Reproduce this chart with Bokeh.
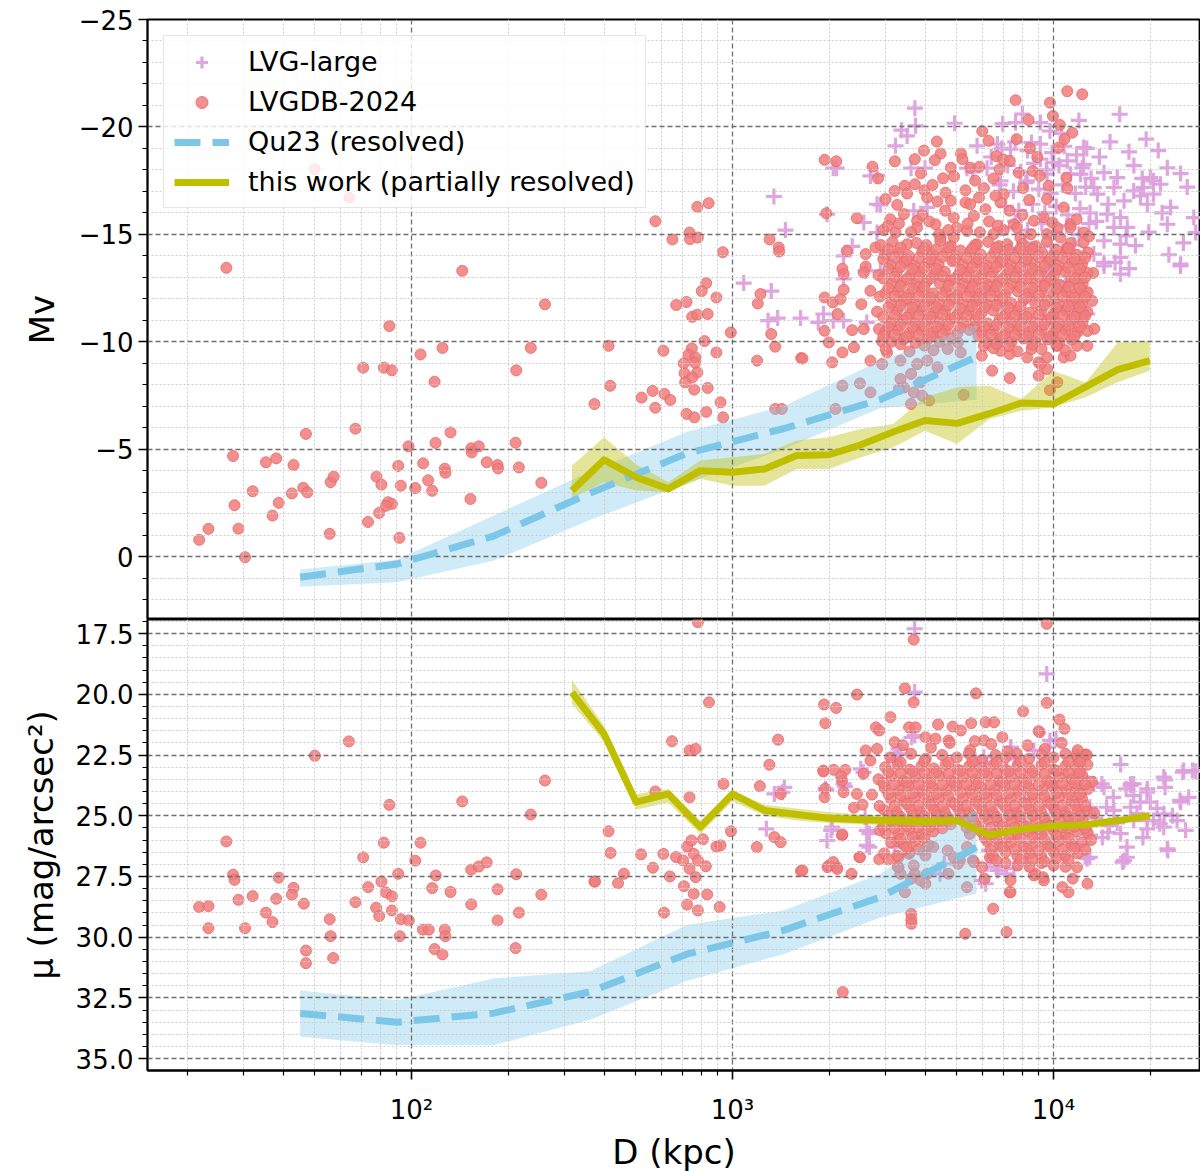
from bokeh.plotting import figure
from bokeh.layouts import column
from bokeh.models import Range1d, FixedTicker, CustomJSTickFormatter, Legend, LegendItem
from bokeh.embed import file_html
from bokeh.resources import INLINE

FONT = "DejaVu Sans"

# ---------------------------------------------------------------------------
# Binned relations (D in kpc)
# ---------------------------------------------------------------------------
qu23_d = [45, 90, 180, 360, 720, 1440, 2880, 5760]
qu23_mv = [0.96, 0.35, -0.95, -2.95, -4.8, -5.95, -7.3, -9.3]
qu23_mv_bright = [0.6, 0.15, -1.9, -3.95, -5.8, -7.0, -9.1, -10.8]
qu23_mv_faint = [1.4, 1.2, 0.2, -1.7, -3.4, -5.0, -6.9, -7.3]
qu23_mu = [33.14, 33.5, 33.13, 32.25, 30.7, 29.72, 28.36, 26.3]
qu23_mu_low = [32.2, 32.6, 31.7, 31.4, 29.5, 28.9, 27.4, 24.7]
qu23_mu_high = [34.1, 34.45, 34.45, 33.4, 31.8, 30.7, 29.2, 28.2]

work_d = [316, 398, 501, 631, 794, 1000, 1259, 1585, 1995, 2512,
          3162, 3981, 5012, 6310, 7943, 10000, 12589, 15849, 19953]
work_mv = [-3.07, -4.5, -3.69, -3.15, -4.0, -3.92, -4.08, -4.7, -4.74, -5.2,
           -5.8, -6.33, -6.2, -6.65, -7.15, -7.1, -7.9, -8.7, -9.12]
work_mv_bright = [-4.23, -5.55, -4.3, -3.46, -4.47, -4.62, -4.78, -5.4, -5.55, -5.94,
                  -6.17, -7.41, -7.88, -7.95, -7.33, -8.65, -8.1, -9.97, -10.05]
work_mv_faint = [-2.7, -3.46, -3.07, -2.99, -3.62, -3.3, -3.3, -4.08, -4.08, -4.62,
                 -5.08, -5.86, -5.24, -6.4, -6.79, -6.95, -7.41, -8.11, -8.65]
work_mu = [19.92, 21.63, 24.44, 24.1, 25.47, 24.1, 24.78, 24.95, 25.1, 25.17,
           25.2, 25.25, 25.2, 25.8, 25.55, 25.42, 25.37, 25.2, 25.0]
work_mu_low = [19.4, 21.3, 24.1, 23.9, 25.2, 23.95, 24.55, 24.7, 24.85, 24.95,
               25.0, 25.05, 25.05, 25.65, 25.4, 25.3, 25.25, 25.1, 24.9]
work_mu_high = [20.4, 21.95, 24.75, 24.45, 25.75, 24.4, 25.0, 25.2, 25.3, 25.35,
                25.4, 25.4, 25.35, 25.95, 25.7, 25.55, 25.5, 25.3, 25.1]

# ---------------------------------------------------------------------------
# Galaxy catalogues: (D [kpc], Mv)
# ---------------------------------------------------------------------------
lvgdb_mv_pts = [
    (21.8, -0.78), (23.3, -1.29), (28.9, -1.30), (30.3, 0.03), (28.1, -2.39), (27.8, -4.68),
    (32.0, -3.04), (35.2, -4.39), (37.9, -4.57), (36.9, -1.91), (38.6, -2.50), (42.9, -4.26),
    (42.4, -2.94), (46.0, -3.2), (47.4, -2.99), (46.9, -5.71), (55.6, -1.06), (56.0, -3.46),
    (57.2, -3.72), (66.9, -5.95), (70.7, -8.79), (82.0, -8.79), (86.9, -8.67), (73.2, -1.61),
    (77.8, -3.72), (80.6, -3.35), (79.3, -2.03), (84.5, -2.53), (86.9, -2.45), (83.2, -2.36),
    (90.9, -4.22), (92.6, -3.30), (91.7, -0.87), (97.9, -5.13), (106.7, -9.41), (124.9, -9.71),
    (118, -8.14), (108.7, -4.34), (118.8, -5.29), (132.3, -5.78), (112.7, -3.55), (116, -3.06),
    (127, -4.09), (127.5, -3.9), (102.7, -3.19), (153.5, -5.04), (154, -4.85), (162, -5.13),
    (152.6, -2.68), (171.5, -4.39), (185.4, -4.26), (186, -4.1), (216, -4.15), (211, -5.3),
    (212, -8.67), (235.3, -9.71), (253.8, -3.43), (371.5, -7.1), (26.5, -13.44), (143.9, -13.3),
    (85.3, -10.73), (260.5, -11.74), (50, -18.03), (64, -16.71),
    (843, -16.45), (777, -16.28), (575, -15.61), (650, -14.76), (735, -15.08), (737, -14.78),
    (780, -14.85), (933, -14.17), (828, -12.73), (802, -12.36), (891, -12.06), (668, -11.71),
    (719, -11.85), (749, -11.16), (777, -11.26), (837, -11.29), (988, -10.43), (818, -10.03),
    (411, -9.81), (609, -9.58), (747, -9.69), (730, -9.4), (766, -9.27), (891, -9.5),
    (705, -8.99), (764, -9.02), (709, -8.53), (777, -8.57), (749, -8.34), (712, -8.11),
    (416, -7.95), (760, -7.77), (837, -7.85), (564, -7.71), (614, -7.57), (521, -7.4),
    (640, -7.29), (575, -6.93), (918, -7.18), (828, -6.74), (719, -6.64), (761, -6.48),
    (935, -6.48), (1359, -6.87), (1424, -6.87), (1193, -9.12), (1320, -10.36), (1359, -9.77),
    (1637, -9.24), (1305, -14.76), (1394, -14.39), (1397, -14.2), (1222, -12.22), (1199, -11.78),
    (11040, -21.66), (12290, -21.52), (7620, -21.24), (9750, -21.13), (9960, -20.51), (8360, -20.33),
    (10470, -20.09), (11440, -19.73), (10820, -19.43), (6280, -19.35), (7680, -19.43), (4330, -19.32),
    (8440, -19.01), (10380, -19.04), (5150, -18.76), (4450, -18.76), (1937, -18.47), (2105, -18.4),
    (3205, -18.4), (3700, -18.5), (4270, -18.45), (6640, -18.64), (6980, -18.48), (7310, -18.42),
    (2730, -18.15), (4790, -18.1), (5510, -18.1), (5880, -18.15), (6800, -18.03), (7800, -17.87),
    (8620, -17.95), (9070, -17.72), (2840, -17.6), (3860, -17.84), (4530, -17.61), (10970, -17.64),
    (3440, -17.26), (3700, -17.33), (3200, -17.02), (3960, -17.05), (4610, -16.94), (5320, -17.05),
    (6070, -17.15), (7000, -16.87), (8040, -17.15), (9660, -17.26), (11040, -17.15), (3000, -16.64),
    (3260, -16.37), (4040, -16.71), (4350, -16.53), (4790, -16.56), (5320, -16.48), (5860, -16.71),
    (6840, -16.48), (9550, -16.64), (10760, -16.25), (2440, -15.75), (1960, -15.98), (3420, -15.94),
    (3760, -15.63), (4290, -15.47), (4890, -15.78), (5650, -15.86), (6140, -16.17), (7530, -15.47),
    (8690, -15.63), (9930, -15.55), (11300, -15.47), (12420, -15.08), (12400, -14.62), (2270, -14.23),
    (2600, -14.08), (2790, -14.39), (3220, -15.08), (3500, -14.54), (3760, -15.32), (4450, -14.85),
    (4890, -14.85), (5380, -15.16), (5780, -14.54), (6510, -15.01), (7170, -14.54), (7890, -14.85),
    (8690, -14.39), (9550, -15.01), (10510, -14.85), (11040, -14.39), (11300, -15.32), (2200, -13.4),
    (2600, -13.5),
    (3300, -15.5), (3900, -15.9), (4600, -16.1), (5000, -15.3), (5500, -16.4), (6300, -15.6),
    (6600, -16.8), (7300, -16.1), (8000, -15.9), (3500, -16.9), (4200, -17.3), (5700, -17.5),
    (4900, -17.7), (6500, -17.6), (3100, -15.7), (2950, -15.2), (8400, -16.6), (5200, -18.5),
    (3950, -18.9), (6000, -19.8), (8900, -18.6), (4400, -15.0), (7000, -15.2),
    (3050, -15.4), (3600, -15.1), (4100, -15.6), (4700, -15.2), (5400, -15.5), (5900, -15.1),
    (6700, -15.4), (7700, -15.3), (8500, -15.0), (9300, -15.8), (10300, -15.3), (11800, -15.7),
    (12900, -14.9), (13300, -13.2), (13200, -11.9), (13400, -10.6),
    (2220, -13.15), (2565, -13.22), (1937, -12.06), (2055, -11.83), (2170, -11.99), (2220, -12.42),
    (2690, -12.37), (2520, -11.75), (2125, -11.29), (1937, -10.51), (2360, -10.54), (2565, -10.59),
    (2860, -10.59), (1996, -9.97), (2390, -9.74), (2200, -9.5), (2045, -9.04), (1652, -9.22),
    (2690, -9.12), (2925, -10.01), (3030, -9.5), (2925, -8.96), (2200, -7.95), (2495, -8.06),
    (2690, -7.64), (2094, -6.87), (6440, -8.65), (7310, -8.31), (8990, -8.42), (9550, -8.73),
    (5980, -9.35), (6070, -9.81), (6840, -9.58), (7310, -9.43), (8280, -9.27), (8540, -9.66),
    (9550, -9.27), (10760, -9.27), (11300, -9.35), (12740, -9.81), (11840, -9.81), (10280, -9.81),
    (8990, -9.04), (9108, -8.96), (5250, -7.53), (10280, -8.11), (9750, -7.75), (3337, -8.27),
    (3600, -8.5), (3760, -8.96), (3337, -9.12), (4040, -9.12), (4350, -8.81), (4680, -9.66),
    (5040, -9.97), (5140, -9.5), (5650, -10.67), (3670, -7.64), (3900, -7.49), (3600, -7.1),
    (4100, -7.26), (3420, -7.87), (3850, -8.11), (3300, -7.8),
    (2900, -14.5), (3150, -14.65), (3740, -14.6), (4020, -14.5), (4440, -14.7),
    (4790, -14.45), (5690, -14.5), (6260, -14.65), (6760, -14.45),
    (8020, -14.55), (8820, -14.45), (9540, -14.65), (11330, -14.6),
    (2980, -14.05), (3290, -14.15), (3540, -14.0), (3900, -14.2), (4210, -14.05), (4640, -14.15),
    (4990, -14.0), (5500, -14.2), (5940, -14.05), (6540, -14.15), (7050, -14.0), (7760, -14.2),
    (8380, -14.05), (9220, -14.15), (9960, -14.0), (10950, -14.2), (11830, -14.05), (12800, -14.15),
    (3110, -13.6), (3430, -13.7), (3700, -13.55), (4070, -13.7), (4390, -13.6), (4840, -13.75),
    (5220, -13.6), (5740, -13.7), (6200, -13.55), (6820, -13.7), (7370, -13.6), (8100, -13.75),
    (8750, -13.6), (9620, -13.7), (10400, -13.55), (11420, -13.7), (12270, -13.6),
    (2850, -13.1), (3250, -13.25), (3580, -13.1), (3860, -13.25), (4250, -13.15), (4590, -13.25),
    (5050, -13.1), (5450, -13.25), (6000, -13.15), (6480, -13.25), (7120, -13.1), (7700, -13.25),
    (8450, -13.15), (9150, -13.25), (10040, -13.1), (10870, -13.25), (11920, -13.15), (12740, -13.2),
    (3140, -12.7), (3390, -12.8), (3730, -12.65), (4030, -12.8), (4430, -12.7), (4790, -12.85),
    (5260, -12.7), (5700, -12.8), (6250, -12.65), (6770, -12.8), (7420, -12.7), (8040, -12.85),
    (8810, -12.7), (9560, -12.8), (10460, -12.65), (11350, -12.8), (12330, -12.7),
    (2990, -12.25), (3280, -12.35), (3550, -12.2), (3890, -12.35), (4220, -12.25), (4620, -12.35),
    (5010, -12.2), (5490, -12.35), (5950, -12.25), (6520, -12.35), (7070, -12.2), (7740, -12.35),
    (8400, -12.25), (9190, -12.35), (9980, -12.2), (10920, -12.35), (11860, -12.25), (12780, -12.3),
    (3120, -11.8), (3420, -11.9), (3710, -11.75), (4060, -11.9), (4400, -11.8), (4830, -11.95),
    (5230, -11.8), (5730, -11.9), (6210, -11.75), (6810, -11.9), (7380, -11.8), (8080, -11.95),
    (8770, -11.8), (9600, -11.9), (10420, -11.75), (11400, -11.9), (12290, -11.8),
    (2820, -11.4), (3260, -11.45), (3570, -11.3), (3870, -11.45), (4240, -11.35), (4600, -11.45),
    (5030, -11.3), (5460, -11.45), (5980, -11.35), (6490, -11.45), (7100, -11.3), (7710, -11.45),
    (8430, -11.35), (9160, -11.45), (10020, -11.3), (10880, -11.45), (11900, -11.35), (12750, -11.4),
    (3130, -10.9), (3400, -11.0), (3720, -10.85), (4040, -11.0), (4420, -10.9), (4800, -11.05),
    (5250, -10.9), (5710, -11.0), (6240, -10.85), (6780, -11.0), (7410, -10.9), (8050, -11.05),
    (8800, -10.9), (9570, -11.0), (10450, -10.85), (11370, -11.0), (12320, -10.9),
    (2990, -10.45), (3270, -10.55), (3560, -10.4), (3880, -10.55), (4230, -10.45), (4610, -10.55),
    (5020, -10.4), (5470, -10.55), (5970, -10.45), (6500, -10.55), (7090, -10.4), (7730, -10.55),
    (8420, -10.45), (9180, -10.55), (10000, -10.4), (10900, -10.55), (11880, -10.45), (12760, -10.5),
    (3130, -10.0), (3410, -10.1), (3720, -9.95), (4050, -10.1), (4420, -10.0), (4810, -10.15),
    (6230, -9.95), (6790, -10.1), (7400, -10.0), (8060, -10.15), (8790, -10.0), (9580, -10.1),
    (10440, -9.95), (11380, -10.1),
    (3000, -9.65), (3560, -9.55), (4230, -9.6), (6500, -9.7), (7730, -9.55), (9180, -9.65),
    (10900, -9.6),
    (3060, -14.3), (3340, -14.38), (3960, -14.35), (4320, -14.3), (4710, -14.4),
    (5130, -14.25), (5590, -14.35), (6650, -14.38), (7240, -14.28), (7890, -14.35),
    (8600, -14.3), (10220, -14.28), (11140, -14.35),
    (2950, -13.85), (3200, -13.92), (3490, -13.82), (3800, -13.9), (4140, -13.85), (4510, -13.95),
    (4920, -13.82), (5360, -13.9), (5840, -13.85), (6370, -13.92), (6940, -13.82), (7570, -13.9),
    (8240, -13.85), (8990, -13.95), (9790, -13.82), (10670, -13.9), (11630, -13.85), (12550, -13.9),
    (3060, -13.4), (3340, -13.48), (3640, -13.38), (3960, -13.45), (4320, -13.4),
    (5130, -13.35), (5590, -13.45), (6100, -13.4), (6650, -13.48), (7240, -13.38), (7890, -13.45),
    (8600, -13.4), (9380, -13.5), (10220, -13.38), (11140, -13.45), (12100, -13.4),
    (2950, -12.95), (3200, -13.02), (3490, -12.92), (3800, -13.0), (4140, -12.95), (4510, -13.05),
    (4920, -12.92), (5360, -13.0), (5840, -12.95), (6370, -13.02), (6940, -12.92), (7570, -13.0),
    (8240, -12.95), (8990, -13.05), (9790, -12.92), (11630, -12.95), (12550, -13.0),
    (3060, -12.5), (3340, -12.58), (3640, -12.48), (3960, -12.55), (4710, -12.6),
    (5130, -12.45), (5590, -12.55), (6100, -12.5), (6650, -12.58), (7240, -12.48), (7890, -12.55),
    (8600, -12.5), (9380, -12.6), (10220, -12.48), (11140, -12.55), (12100, -12.5),
    (2880, -12.1), (3200, -12.12), (3490, -12.02), (3800, -12.1), (4140, -12.05), (4510, -12.15),
    (4920, -12.02), (5360, -12.1), (5840, -12.05), (6370, -12.12), (6940, -12.02),
    (8240, -12.05), (8990, -12.15), (10670, -12.1), (11630, -12.05), (12550, -12.1),
    (3060, -11.6), (3340, -11.68), (3640, -11.58), (3960, -11.65), (4320, -11.6), (4710, -11.7),
    (5130, -11.55), (5590, -11.65), (6100, -11.6), (6650, -11.68), (7240, -11.58), (7890, -11.65),
    (9380, -11.7), (10220, -11.58), (11140, -11.65), (12100, -11.6),
    (2950, -11.15), (3200, -11.22), (3490, -11.12), (3800, -11.2), (4140, -11.15), (4510, -11.25),
    (4920, -11.12), (5360, -11.2), (5840, -11.15), (6940, -11.12), (7570, -11.2),
    (8240, -11.15), (8990, -11.25), (9790, -11.12), (10670, -11.2), (11630, -11.15), (12550, -11.2),
    (3060, -10.7), (3340, -10.78), (3640, -10.68), (3960, -10.75), (4320, -10.7), (4710, -10.8),
    (5130, -10.65), (6100, -10.7), (6650, -10.78), (7240, -10.68), (7890, -10.75),
    (8600, -10.7), (9380, -10.8), (10220, -10.68), (11140, -10.75), (12100, -10.7),
    (2950, -10.25), (3200, -10.32), (3490, -10.22), (3800, -10.3), (4140, -10.25), (4510, -10.35),
    (5840, -10.25), (6370, -10.32), (6940, -10.22), (7570, -10.3), (8240, -10.25), (8990, -10.35),
    (9790, -10.22), (10670, -10.3), (11630, -10.25),
    (3340, -9.88), (3960, -9.82), (6650, -9.9), (7240, -9.8), (8600, -9.85), (10220, -9.82),
]

lvg_mv_pts = [
    (3700, -20.87), (3360, -19.85), (3500, -19.58), (3720, -20.05), (3220, -19.12), (4920, -20.17),
    (6950, -20.15), (7620, -20.2), (9108, -20.2), (9750, -19.81), (16080, -20.59), (19440, -19.43),
    (17190, -18.84), (5780, -19.12), (6690, -19.2), (7350, -18.96), (8540, -19.27), (9108, -18.5),
    (10020, -18.34), (11040, -18.42), (12420, -19.04), (12420, -18.26), (2110, -18.08), (2820, -17.75),
    (3600, -18.08), (3980, -18.08), (5380, -18.08), (6210, -18.08), (6840, -17.49), (8280, -17.49),
    (9550, -17.8), (12135, -17.8), (14370, -17.87), (15800, -17.64), (22630, -18.1), (24880, -17.83),
    (20030, -17.64), (21540, -17.33), (15430, -17.18), (17780, -17.02), (19100, -17.18), (20480, -17.49),
    (13360, -17.18), (13700, -16.87), (16590, -16.56), (18660, -16.79), (19600, -16.4), (20480, -16.87),
    (23170, -16.25), (27360, -15.78), (27740, -15.08), (22630, -15.47), (14690, -15.94), (16170, -15.78),
    (15430, -15.32), (16980, -15.32), (16840, -14.93), (14370, -14.7), (16170, -14.54), (18000, -14.47),
    (22880, -14.05), (24880, -13.61), (16170, -13.92), (15560, -13.69), (13360, -14.08), (14370, -13.69),
    (2060, -18.08), (2690, -17.72), (2820, -16.4), (3670, -16.09), (4040, -16.25), (2891, -16.37),
    (2360, -14.44), (2220, -14.0), (3070, -14.15), (1970, -15.94), (2565, -15.55), (2820, -15.08),
    (1920, -11.29), (2060, -10.98), (2220, -10.98), (2620, -10.9), (2220, -12.92), (2600, -13.3),
    (2890, -13.3), (14370, -13.53), (16170, -13.15), (24860, -13.53), (1346, -16.76), (1462, -15.2),
    (1084, -12.73), (1321, -12.36), (1291, -10.98), (1383, -11.1), (1630, -11.1), (1850, -10.9),
    (6900, -19.0), (7600, -19.3), (8300, -18.9), (9100, -19.2), (9900, -18.8), (10800, -19.1),
    (11800, -18.7), (12700, -19.0), (7200, -18.2), (7900, -17.9), (8700, -18.3), (9500, -18.0),
    (10400, -18.2), (11300, -17.8), (12300, -18.1), (13100, -17.6), (6800, -17.3), (7500, -17.0),
    (8200, -17.4), (9000, -17.1), (9800, -16.9), (10700, -17.3), (11700, -16.9), (12600, -17.2),
    (7100, -16.3), (7800, -16.1), (8600, -16.4), (9400, -16.0), (10200, -16.3), (11100, -15.9),
    (12100, -16.2), (13000, -16.0), (6900, -15.3), (7600, -15.6), (8300, -15.2), (9200, -15.5),
    (10100, -15.1), (11000, -15.4), (12000, -15.0), (12900, -15.5), (7300, -14.3), (8100, -14.6),
    (8900, -14.2), (9800, -14.5), (10700, -14.2), (11600, -14.5), (12500, -14.1),
    (6200, -12.2), (7000, -11.75), (7890, -10.98), (8690, -12.06), (6210, -10.51), (5650, -11.91),
    (12420, -12.45), (12740, -11.29), (12135, -10.67), (10900, -12.8), (11500, -11.6), (9700, -13.2),
    (13900, -18.6), (15000, -19.3), (17800, -18.2), (18900, -17.6), (21200, -18.9), (26100, -17.2),
    (14800, -16.4), (21800, -16.0), (25400, -14.6), (19800, -15.1), (13600, -15.6), (17200, -13.4),
    (8000, -20.6), (10600, -19.7), (12000, -20.3), (5600, -17.9), (6400, -18.6),
]

# Galaxy catalogues: (D [kpc], surface brightness)
lvgdb_mu_pts = [
    (21.8, 28.76), (23.3, 28.72), (23.3, 29.63), (26.5, 26.06), (27.8, 27.43), (28.1, 27.64),
    (28.9, 28.46), (30.3, 29.63), (32.0, 28.31), (35.2, 28.99), (36.9, 29.38), (37.9, 28.42),
    (38.6, 27.55), (42.9, 27.97), (42.4, 28.25), (46.2, 28.62), (46.9, 30.55), (46.9, 31.07),
    (50, 22.53), (57, 30.86), (55.6, 29.26), (56, 29.96), (63.8, 21.94), (66.9, 28.56),
    (70.7, 26.71), (73.3, 27.94), (77.6, 28.79), (79.3, 29.13), (80.6, 27.71), (82, 26.11),
    (83.2, 28.16), (85.3, 24.55), (86.9, 28.32), (86.9, 28.9), (90.9, 27.39), (92.6, 29.26),
    (91.9, 29.96), (98.1, 29.31), (102.7, 26.85), (106.7, 26.11), (108.5, 29.69), (113.2, 29.69),
    (116, 27.98), (119, 27.46), (118, 30.49), (124.9, 30.71), (127, 29.69), (127.5, 29.96),
    (132.3, 28.14), (143.9, 24.41), (153.5, 27.22), (153.5, 28.65), (162, 27.09), (171.5, 26.92),
    (185.4, 28.03), (185.4, 29.31), (211, 30.45), (212, 27.41), (216, 28.99), (235.3, 24.95),
    (253.8, 28.25), (260.5, 23.55), (371.5, 27.71),
    (780, 17.03), (845, 20.33), (648, 21.93), (735, 22.31), (768, 22.25), (1387, 21.87),
    (1303, 22.9), (937, 23.69), (575, 24.0), (735, 24.24), (1217, 23.78), (1413, 24.1),
    (411, 25.64), (417, 26.53), (373, 27.71), (440, 27.78), (459, 27.39), (519, 26.59),
    (565, 27.14), (609, 26.57), (638, 27.5), (612, 28.99), (667, 26.7), (702, 26.84),
    (722, 26.27), (745, 26.02), (809, 25.97), (757, 26.57), (780, 26.84), (735, 27.18),
    (768, 27.53), (826, 27.08), (706, 27.9), (757, 28.21), (834, 28.24), (722, 28.66),
    (780, 28.9), (912, 28.76), (891, 26.27), (989, 25.64), (918, 26.22), (1191, 26.29),
    (1350, 25.88), (1413, 26.09), (1634, 27.28), (1977, 27.12), (2111, 27.12), (2194, 25.81),
    (2349, 27.39), (2485, 26.7), (2866, 26.8), (2206, 32.26), (2442, 20.01), (1929, 20.42),
    (2103, 20.56), (1947, 21.19), (1918, 23.14), (2067, 23.11), (2245, 23.11), (2194, 23.55),
    (1943, 23.89), (2442, 24.1), (2797, 21.36), (2866, 21.49), (3105, 20.94), (3445, 19.75),
    (3669, 20.33), (3669, 17.75), (5733, 19.96), (9530, 17.1), (9530, 20.35), (8040, 20.7),
    (10450, 21.04), (10820, 21.42), (12560, 22.49), (3548, 21.36), (4370, 21.24), (4852, 21.33),
    (5145, 21.49), (5540, 21.19), (6150, 21.15), (6530, 21.15), (6930, 21.77), (6070, 21.9),
    (9060, 21.56), (3200, 21.97), (3990, 21.77), (4710, 21.9), (5380, 27.94), (3445, 28.15),
    (3606, 29.04), (3606, 29.28), (3990, 27.8), (3695, 27.39), (4710, 27.39), (5110, 26.84),
    (3290, 27.12), (3548, 26.57), (3943, 26.43), (5610, 26.84), (5310, 29.86), (7140, 29.79),
    (6490, 28.83), (7310, 28.15), (11140, 28.15), (10660, 27.94), (12760, 27.8), (9330, 27.66),
    (11480, 27.59), (8790, 27.39),
    (3720, 21.36), (8990, 21.52), (5690, 21.93), (4290, 21.83), (2600, 22.31), (2820, 22.25),
    (2690, 22.73), (1920, 23.18), (2180, 23.38), (2560, 23.27), (12620, 22.48), (11800, 22.48),
    (1937, 24.24), (2390, 24.67), (2540, 24.54), (2220, 24.03), (2720, 24.13), (2200, 25.77),
    (3000, 25.72), (3260, 26.05), (2495, 26.71), (1996, 27.05), (2060, 26.91), (2120, 27.19),
    (1652, 27.25), (6340, 26.71), (5980, 27.12), (6100, 27.59), (7350, 27.66), (7350, 28.15),
    (3610, 29.45), (9280, 27.53), (8690, 27.46), (11840, 27.12),
    (3337, 27.39), (3850, 27.66), (4040, 27.39), (4680, 26.43), (5040, 26.98), (5380, 26.29),
    (5650, 26.91), (4220, 26.29), (3670, 27.05), (3600, 27.59), (3990, 26.64), (4890, 26.71),
    (3290, 26.71),
    (3400, 22.1), (4150, 22.2), (4750, 22.0), (5500, 22.3), (6400, 22.05), (7200, 22.35),
    (8300, 22.1), (9400, 22.25), (10600, 22.0), (11900, 22.3),
    (3100, 22.6), (3600, 22.45), (4000, 22.65), (4500, 22.5), (5000, 22.6), (5450, 22.45),
    (6000, 22.7), (6600, 22.5), (7100, 22.6), (7700, 22.45), (8400, 22.65), (9200, 22.5),
    (10000, 22.6), (10900, 22.45), (11900, 22.65), (12700, 22.5),
    (2990, 23.0), (3270, 22.9), (3560, 23.1), (3880, 22.95), (4230, 23.05), (4610, 22.9),
    (5020, 23.1), (5470, 22.95), (5970, 23.05), (6500, 22.9), (7090, 23.1), (7730, 22.95),
    (8420, 23.05), (9180, 22.9), (10000, 23.1), (10900, 22.95), (11880, 23.05), (12760, 22.9),
    (2850, 23.5), (3130, 23.35), (3410, 23.55), (3720, 23.4), (4050, 23.5), (4420, 23.35),
    (4810, 23.55), (5240, 23.4), (5720, 23.5), (6230, 23.35), (6790, 23.55), (7400, 23.4),
    (8060, 23.5), (8790, 23.35), (9580, 23.55), (10440, 23.4), (11380, 23.5), (12310, 23.35),
    (2980, 23.85), (3290, 23.95), (3540, 23.8), (3900, 23.95), (4210, 23.85), (4640, 23.95),
    (4990, 23.8), (5500, 23.95), (5940, 23.85), (6540, 23.95), (7050, 23.8), (7760, 23.95),
    (8380, 23.85), (9220, 23.95), (9960, 23.8), (10950, 23.95), (11830, 23.85), (12800, 23.9),
    (3110, 24.3), (3430, 24.4), (3700, 24.25), (4070, 24.4), (4390, 24.3), (4840, 24.45),
    (5220, 24.3), (5740, 24.4), (6200, 24.25), (6820, 24.4), (7370, 24.3), (8100, 24.45),
    (8750, 24.3), (9620, 24.4), (10400, 24.25), (11420, 24.4), (12270, 24.3),
    (2960, 24.75), (3250, 24.85), (3580, 24.7), (3860, 24.85), (4250, 24.75), (4590, 24.85),
    (5050, 24.7), (5450, 24.85), (6000, 24.75), (6480, 24.85), (7120, 24.7), (7700, 24.85),
    (8450, 24.75), (9150, 24.85), (10040, 24.7), (10870, 24.85), (11920, 24.75), (12740, 24.8),
    (3140, 25.2), (3390, 25.3), (3730, 25.15), (4030, 25.3), (4430, 25.2), (4790, 25.35),
    (5260, 25.2), (5700, 25.3), (6250, 25.15), (6770, 25.3), (7420, 25.2), (8040, 25.35),
    (8810, 25.2), (9560, 25.3), (10460, 25.15), (11350, 25.3), (12330, 25.2),
    (2880, 25.6), (3280, 25.75), (3550, 25.6), (3890, 25.75), (4220, 25.65), (5490, 25.75),
    (5950, 25.65), (6520, 25.75), (7070, 25.6), (7740, 25.75), (8400, 25.65), (9190, 25.75),
    (9980, 25.6), (10920, 25.75), (11860, 25.65), (12780, 25.7),
    (3120, 26.1), (3420, 26.2), (3710, 26.05), (4060, 26.2), (6210, 26.05), (6810, 26.2),
    (7380, 26.1), (8080, 26.25), (8770, 26.1), (9600, 26.2), (10420, 26.05), (11400, 26.2),
    (12290, 26.1),
    (2970, 26.55), (3260, 26.65), (3570, 26.5), (6490, 26.65), (7100, 26.5), (7710, 26.65),
    (8430, 26.55), (9160, 26.65), (10020, 26.5), (10880, 26.65), (11900, 26.55),
    (3270, 27.1), (7090, 26.95), (7730, 27.05), (8420, 27.1), (9180, 26.95), (10000, 27.05),
    (10900, 27.1), (13200, 23.6), (13400, 24.9), (13100, 26.0),
    (3340, 22.8), (3960, 22.75), (4710, 22.82), (5590, 22.78), (6650, 22.8), (7890, 22.75),
    (9380, 22.82), (11140, 22.78), (12100, 22.8),
    (3060, 23.2), (3340, 23.25), (3640, 23.18), (3960, 23.22), (4320, 23.2), (4710, 23.28),
    (5130, 23.15), (5590, 23.22), (6100, 23.2), (6650, 23.25), (7240, 23.18), (7890, 23.22),
    (8600, 23.2), (9380, 23.28), (10220, 23.15), (11140, 23.22), (12100, 23.2),
    (2950, 23.65), (3200, 23.7), (3490, 23.62), (3800, 23.68), (4140, 23.65), (4510, 23.72),
    (4920, 23.62), (5360, 23.68), (5840, 23.65), (6370, 23.7), (6940, 23.62), (7570, 23.68),
    (8240, 23.65), (8990, 23.72), (9790, 23.62), (10670, 23.68), (11630, 23.65), (12550, 23.7),
    (3060, 24.1), (3340, 24.15), (3640, 24.08), (3960, 24.12), (4320, 24.1), (4710, 24.18),
    (5130, 24.05), (5590, 24.12), (6100, 24.1), (6650, 24.15), (7240, 24.08), (7890, 24.12),
    (8600, 24.1), (9380, 24.18), (10220, 24.05), (11140, 24.12), (12100, 24.1),
    (2870, 24.6), (3200, 24.6), (3490, 24.52), (3800, 24.58), (4140, 24.55), (4510, 24.62),
    (4920, 24.52), (5360, 24.58), (5840, 24.55), (6370, 24.6), (6940, 24.52), (7570, 24.58),
    (8240, 24.55), (8990, 24.62), (9790, 24.52), (10670, 24.58), (11630, 24.55), (12550, 24.6),
    (3060, 25.0), (3340, 25.05), (3640, 24.98), (3960, 25.02), (4320, 25.0), (4710, 25.08),
    (5130, 24.95), (5590, 25.02), (6100, 25.0), (6650, 25.05), (7240, 24.98), (7890, 25.02),
    (8600, 25.0), (9380, 25.08), (10220, 24.95), (11140, 25.02), (12100, 25.0),
    (2950, 25.45), (3200, 25.5), (3490, 25.42), (3800, 25.48), (4140, 25.45), (4510, 25.52),
    (5360, 25.48), (5840, 25.45), (6370, 25.5), (6940, 25.42), (7570, 25.48), (8240, 25.45),
    (8990, 25.52), (9790, 25.42), (10670, 25.48), (11630, 25.45), (12550, 25.5),
    (3340, 25.95), (3640, 25.88), (3960, 25.92), (6100, 25.9), (6650, 25.95),
    (7240, 25.88), (7890, 25.92), (8600, 25.9), (9380, 25.98), (10220, 25.85), (11140, 25.92),
    (3490, 26.32), (3800, 26.38), (6370, 26.4), (6940, 26.32), (7570, 26.38),
    (8240, 26.35), (8990, 26.42), (9790, 26.32), (10670, 26.38), (11630, 26.35), (12550, 26.4),
    (3060, 26.8), (6650, 26.85), (7890, 26.82), (8600, 26.8), (9380, 26.88), (10220, 26.75),
    (11140, 26.82),
]

lvg_mu_pts = [
    (3695, 17.3), (3695, 19.91), (9530, 19.16), (16190, 22.89), (22290, 23.52), (25290, 23.21),
    (27100, 23.14), (17410, 23.69), (14150, 23.69), (15360, 24.24), (18640, 24.44), (19560, 24.03),
    (24780, 24.37), (26380, 24.24), (22100, 24.92), (24270, 25.2), (21440, 25.33), (22720, 26.43),
    (16940, 26.29), (16190, 25.74), (16940, 26.71), (16420, 26.91), (14940, 25.4), (12980, 24.65),
    (14640, 24.65), (17410, 24.65), (19560, 25.2), (12980, 26.71), (12010, 24.1), (12250, 23.41),
    (9620, 22.18), (7370, 22.18), (6150, 22.86), (5700, 22.73), (7140, 23.14), (3290, 22.25),
    (3200, 22.73), (3695, 21.7), (2560, 23.21), (2240, 23.8), (1960, 23.96), (1450, 23.83),
    (1350, 24.1), (1275, 25.54), (2045, 25.47), (2670, 25.74), (2670, 26.29), (1430, 24.03),
    (2590, 25.06), (3200, 26.29), (6150, 27.8), (6630, 27.12), (7140, 27.39), (8290, 26.98),
    (12560, 26.71), (6300, 26.43), (4570, 26.98), (4430, 27.39),
    (2030, 25.6), (2620, 25.6), (2620, 26.22), (1970, 26.02), (6210, 26.98), (5980, 27.66),
    (6690, 27.25), (7530, 27.18), (8280, 26.71), (12740, 26.77), (14780, 25.68), (22630, 26.36),
    (16590, 26.84), (24900, 24.44), (20030, 24.44), (17780, 24.17), (15430, 24.78), (17780, 25.2),
    (20480, 25.2), (22060, 25.47), (19600, 25.54), (17780, 23.69), (16840, 23.89), (22270, 23.83),
    (3610, 21.77), (3260, 22.45), (7350, 22.18), (8690, 22.31), (9750, 21.9), (10190, 21.84),
    (7530, 22.66), (6070, 22.59), (17400, 23.75), (22060, 23.41), (25460, 23.14), (27740, 23.17),
    (19600, 23.89), (13360, 23.69), (14370, 23.83), (1950, 23.89), (2220, 23.69), (2510, 23.07),
    (3337, 22.25), (3190, 22.66),
    (13500, 25.1), (14200, 25.9), (15800, 25.3), (18200, 24.9), (19000, 25.9), (21000, 24.7),
    (23500, 25.0), (25800, 25.6), (13000, 25.8), (11800, 26.2), (10900, 25.0), (9800, 24.6),
    (9000, 25.7), (8400, 24.3), (7600, 25.1), (11000, 23.3), (10100, 23.8),
]

# Axis tick positions
x_major = [100, 1000, 10000]
x_minor = [20, 30, 40, 50, 60, 70, 80, 90, 200, 300, 400, 500, 600, 700, 800, 900,
           2000, 3000, 4000, 5000, 6000, 7000, 8000, 9000, 20000]
mv_major = [-25, -20, -15, -10, -5, 0]
mv_minor = [-24, -23, -22, -21, -19, -18, -17, -16, -14, -13, -12, -11,
            -9, -8, -7, -6, -4, -3, -2, -1, 1, 2]
mu_major = [17.5, 20.0, 22.5, 25.0, 27.5, 30.0, 32.5, 35.0]
mu_minor = [17.0, 18.0, 18.5, 19.0, 19.5, 20.5, 21.0, 21.5, 22.0, 23.0, 23.5, 24.0, 24.5,
            25.5, 26.0, 26.5, 27.0, 28.0, 28.5, 29.0, 29.5, 30.5, 31.0, 31.5, 32.0,
            33.0, 33.5, 34.0, 34.5, 35.5]

# ---------------------------------------------------------------------------
RED = "#f07c7c"
RED_EDGE = "#e86a6a"
PLUM = "#dda0dd"
BLUE = "#7cc6e8"
SKY = "#87ceeb"
OLIVE = "#bfbf00"


def split(pts):
    return [p[0] for p in pts], [p[1] for p in pts]


def style_axis(ax):
    ax.axis_line_width = 1.8
    ax.axis_line_color = "black"
    ax.major_tick_line_width = 1.6
    ax.minor_tick_line_width = 1.2
    ax.major_tick_out = 9
    ax.major_tick_in = 0
    ax.minor_tick_out = 5
    ax.minor_tick_in = 0
    ax.major_label_text_font = FONT
    ax.major_label_text_font_size = "26px"
    ax.major_label_text_color = "black"
    ax.axis_label_text_font = FONT
    ax.axis_label_text_font_size = "34px"
    ax.axis_label_text_font_style = "normal"
    ax.axis_label_text_color = "black"


def style_grid(g, ticker):
    g.ticker = ticker
    g.grid_line_color = "#6e6e6e"
    g.grid_line_width = 1.3
    g.grid_line_dash = "5 3"
    g.minor_grid_line_color = "#cccccc"
    g.minor_grid_line_width = 1
    g.minor_grid_line_dash = "2 2"


def draw_catalogues(p, lvg_pts, db_pts):
    d, v = split(lvg_pts)
    r1 = p.scatter(d, v, marker="cross", size=16, line_color=PLUM, line_width=3.2,
                   line_alpha=0.95, level="image")
    d, v = split(db_pts)
    r2 = p.scatter(d, v, marker="circle", size=11, fill_color=RED, fill_alpha=0.85,
                   line_color=RED_EDGE, line_alpha=0.85, line_width=1, level="image")
    return r1, r2


x_ticker = FixedTicker(ticks=x_major, minor_ticks=x_minor)
x_fmt = CustomJSTickFormatter(code="""
    const sup = {2: "\u00b2", 3: "\u00b3", 4: "\u2074"};
    const e = Math.round(Math.log10(tick));
    return "10" + (sup[e] || "");
""")

x_range = Range1d(15.05, 28710)

common = dict(output_backend="svg", toolbar_location=None, x_axis_type="log",
              x_range=x_range, frame_width=1053, min_border_left=147, min_border_right=0,
              background_fill_color="white", border_fill_color="white")

# ---------------------------- absolute magnitude ----------------------------
top = figure(frame_height=600, y_range=Range1d(2.93, -25), x_axis_location=None,
             min_border_top=19, min_border_bottom=0, **common)

r_lvg, r_db = draw_catalogues(top, lvg_mv_pts, lvgdb_mv_pts)
top.varea(x=qu23_d, y1=qu23_mv_bright, y2=qu23_mv_faint, fill_color=SKY,
          fill_alpha=0.4, level="image")
top.varea(x=work_d, y1=work_mv_bright, y2=work_mv_faint, fill_color=OLIVE,
          fill_alpha=0.4, level="image")
r_qu = top.line(qu23_d, qu23_mv, line_color=BLUE, line_width=7, line_dash="26 12")
r_work = top.line(work_d, work_mv, line_color=OLIVE, line_width=7, line_join="round")

top.yaxis.ticker = FixedTicker(ticks=mv_major, minor_ticks=mv_minor)
top.yaxis.formatter = CustomJSTickFormatter(
    code='return (tick < 0 ? "\u2212" : "") + Math.abs(tick).toFixed(0);')
top.yaxis.axis_label = "Mv"
style_axis(top.yaxis[0])
top.yaxis.axis_label_standoff = 14
style_grid(top.xgrid[0], x_ticker)
style_grid(top.ygrid[0], top.yaxis[0].ticker)
top.outline_line_color = "black"
top.outline_line_width = 1.8

legend = Legend(items=[
    LegendItem(label="LVG-large", renderers=[r_lvg]),
    LegendItem(label="LVGDB-2024", renderers=[r_db]),
    LegendItem(label="Qu23 (resolved)", renderers=[r_qu]),
    LegendItem(label="this work (partially resolved)", renderers=[r_work]),
], location="top_left")
legend.margin = 16
legend.padding = 10
legend.spacing = 9
legend.glyph_width = 55
legend.glyph_height = 30
legend.label_height = 30
legend.label_standoff = 19
legend.label_text_font = FONT
legend.label_text_font_size = "27px"
legend.label_text_color = "black"
legend.border_line_color = "#cccccc"
legend.border_line_width = 1.5
legend.background_fill_color = "white"
legend.background_fill_alpha = 0.8
top.add_layout(legend)

# ---------------------------- surface brightness ----------------------------
bot = figure(frame_height=451, y_range=Range1d(35.49, 16.92),
             min_border_top=0, min_border_bottom=60, **common)

draw_catalogues(bot, lvg_mu_pts, lvgdb_mu_pts)
bot.varea(x=qu23_d, y1=qu23_mu_low, y2=qu23_mu_high, fill_color=SKY,
          fill_alpha=0.4, level="image")
bot.varea(x=work_d, y1=work_mu_low, y2=work_mu_high, fill_color=OLIVE,
          fill_alpha=0.4, level="image")
bot.line(qu23_d, qu23_mu, line_color=BLUE, line_width=7, line_dash="26 12")
bot.line(work_d, work_mu, line_color=OLIVE, line_width=7, line_join="round")

bot.xaxis.ticker = x_ticker
bot.xaxis.formatter = x_fmt
bot.xaxis.axis_label = "D (kpc)"
style_axis(bot.xaxis[0])
bot.xaxis.major_label_standoff = 15
bot.xaxis.axis_label_standoff = 4
bot.yaxis.ticker = FixedTicker(ticks=mu_major, minor_ticks=mu_minor)
bot.yaxis.formatter = CustomJSTickFormatter(code="return tick.toFixed(1);")
bot.yaxis.axis_label = "μ (mag/arcsec²)"
style_axis(bot.yaxis[0])
bot.yaxis.axis_label_standoff = 12
style_grid(bot.xgrid[0], x_ticker)
style_grid(bot.ygrid[0], bot.yaxis[0].ticker)
bot.outline_line_color = "black"
bot.outline_line_width = 1.8

layout = column(top, bot, spacing=0)

with open("out.html", "w") as f:
    f.write(file_html(layout, INLINE, title="Mv and surface brightness versus distance"))
